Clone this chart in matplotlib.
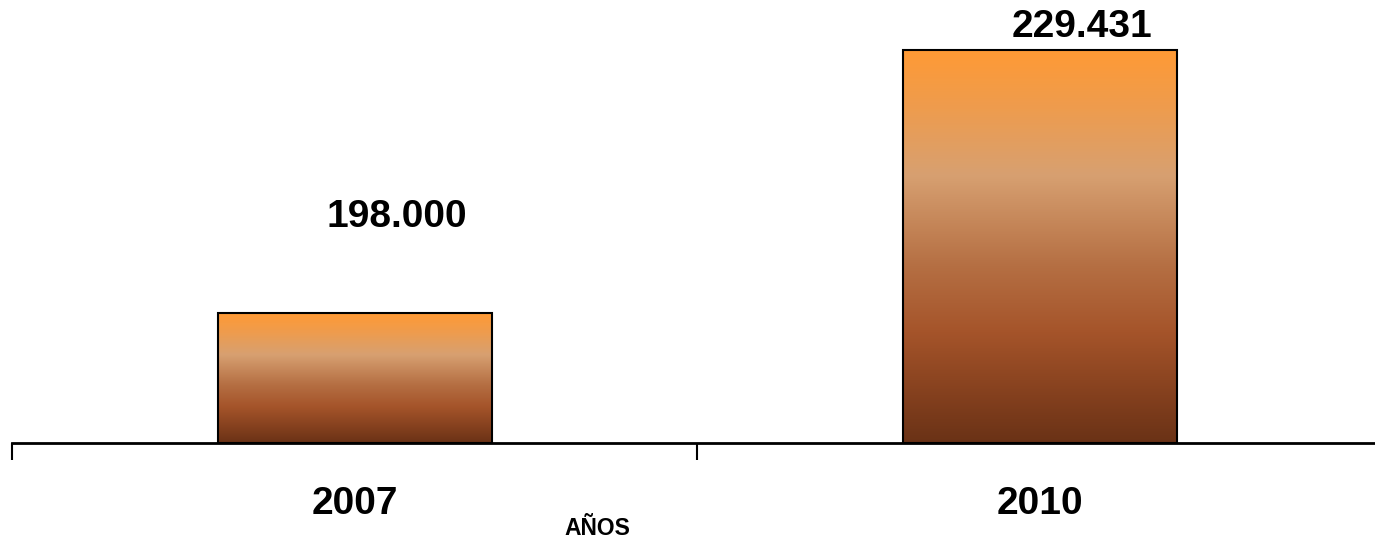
import numpy as np
import matplotlib.pyplot as plt
from matplotlib.colors import LinearSegmentedColormap

years = ['2007', '2010']
values = [198000, 229431]
value_labels = ['198.000', '229.431']

# vertical gradient used by the bars (top -> bottom)
grad = LinearSegmentedColormap.from_list('bar_grad', [
    (0.00, '#FF9A35'),
    (0.15, '#EE9C4E'),
    (0.32, '#D7A071'),
    (0.55, '#B56F43'),
    (0.72, '#A5542A'),
    (0.88, '#84401E'),
    (1.00, '#6A3216'),
])

plt.rcParams['font.family'] = ['Liberation Sans Narrow', 'Liberation Sans', 'DejaVu Sans']

fig = plt.figure(figsize=(13.75, 5.38), dpi=100)
ax = fig.add_axes([12 / 1375, 95 / 538, 1370 / 1375, 443 / 538])

ymin, ymax = 182465, 235404
x = np.arange(len(years))
bar_w = 0.4

bars = ax.bar(x, [v - ymin for v in values], bottom=ymin, width=bar_w,
              facecolor='none', edgecolor='black', linewidth=1.5, zorder=3)

g = np.linspace(0, 1, 256).reshape(-1, 1)
for b in bars:
    x0, y0 = b.get_x(), b.get_y()
    w, h = b.get_width(), b.get_height()
    im = ax.imshow(g, cmap=grad, aspect='auto', extent=[x0, x0 + w, y0, y0 + h],
                   origin='upper', zorder=2)
    im.set_clip_path(b)

# value labels (slightly right of bar centre, as in the original)
label_y = [209470, 232200]
for i, (lab, ly) in enumerate(zip(value_labels, label_y)):
    ax.text(x[i] + 0.062, ly, lab, ha='center', va='center',
            fontsize=28, fontweight='bold')

ax.set_xlim(-0.5, 1.5)
ax.set_ylim(ymin, ymax)

for s in ['top', 'right', 'left']:
    ax.spines[s].set_visible(False)
ax.spines['bottom'].set_linewidth(2)
ax.set_yticks([])

ax.set_xticks(x)
ax.set_xticklabels(years, fontsize=28, fontweight='bold')
ax.tick_params(axis='x', which='major', length=0, pad=31)
ax.set_xticks([-0.5, 0.5, 1.5], minor=True)
ax.tick_params(axis='x', which='minor', length=12, width=1.5, direction='out')

ax.text(0.5 - 100 / 685, -0.192, 'AÑOS', transform=ax.get_xaxis_transform(),
        ha='center', va='center', fontsize=16.5, fontweight='bold')

fig.savefig('out.png', dpi=100)
